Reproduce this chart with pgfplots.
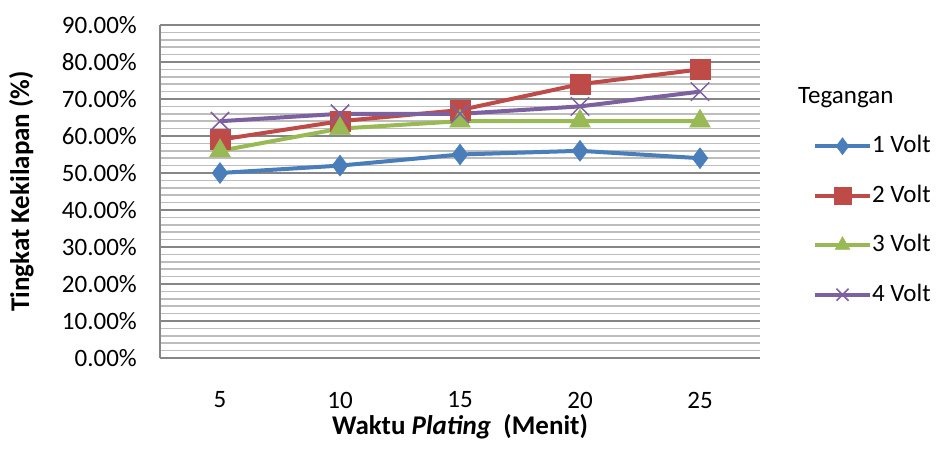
\documentclass[border=0pt]{standalone}
\usepackage{pgfplots}
\pgfplotsset{compat=1.18}
\usepackage{fontspec}
\setmainfont{Carlito}
\definecolor{s1}{HTML}{4A7EBB}
\definecolor{s2}{HTML}{BE4B48}
\definecolor{s3}{HTML}{98B954}
\definecolor{s4}{HTML}{7D60A0}
\definecolor{gmaj}{HTML}{868686}
\definecolor{gmin}{HTML}{BDBDBD}
\begin{document}
\begin{tikzpicture}[font=\fontsize{25}{30}\selectfont]
\useasboundingbox (0pt,0pt) rectangle (939pt,451pt);
\begin{axis}[
  at={(160pt,93pt)}, anchor=south west,
  scale only axis, width=600pt, height=333pt,
  xmin=2.5, xmax=27.5, ymin=0, ymax=90,
  xtick={5,10,15,20,25},
  ytick={0,10,...,90},
  minor y tick num=4,
  ymajorgrids, yminorgrids,
  major grid style={draw=gmaj, line width=2pt},
  minor grid style={draw=gmin, line width=1.5pt},
  major tick length=0pt, minor tick length=0pt,
  axis x line*=bottom, axis y line*=left,
  axis line style={draw=gmaj, line width=2pt, -},
  /pgf/number format/assume math mode=true,
  yticklabel={\pgfmathprintnumber[fixed,fixed zerofill,precision=2]{\tick}\%},
  yticklabel style={anchor=east, inner sep=0pt, xshift=-23pt},
  xticklabel style={anchor=center, inner sep=0pt, yshift=-42pt},
  xlabel={\textbf{Waktu \textit{Plating}\ \ (Menit)}},
  ylabel={\textbf{Tingkat Kekilapan (\%)}},
  every axis x label/.style={at={(axis description cs:0.5,-0.206)}, anchor=center, font=\fontsize{27}{32}\selectfont},
  every axis y label/.style={at={(axis description cs:-0.231,0.5)}, rotate=90, anchor=center, font=\fontsize{27}{32}\selectfont},
  clip=false,
  legend style={at={(rel axis cs:1.088,0.413)}, anchor=west, draw=none, fill=none,
    inner sep=0pt, row sep=26.5pt,
    nodes={inner sep=0pt, text height=18pt, text depth=5pt, anchor=west},
    /tikz/every even column/.append style={column sep=5pt}},
  legend cell align=left,
  legend image code/.code={\draw[mark repeat=2,mark phase=2,#1,mark size=8.5pt] plot coordinates {(0pt,0pt) (27.5pt,0pt) (55pt,0pt)};},
]
\addplot[s1, line width=4pt, mark=diamond*, mark size=10.5pt, mark options={solid, line width=0.5pt, fill=s1}]
  coordinates {(5,50) (10,52) (15,55) (20,56) (25,54)};
\addlegendentry{1 Volt}
\addplot[s2, line width=4pt, mark=square*, mark size=10pt, mark options={solid, line width=0.5pt, fill=s2}]
  coordinates {(5,59) (10,64) (15,67) (20,74) (25,78)};
\addlegendentry{2 Volt}
\addplot[s3, line width=4pt, mark=triangle*, mark size=12pt, mark options={solid, line width=0.5pt, fill=s3}]
  coordinates {(5,56) (10,62) (15,64) (20,64) (25,64)};
\addlegendentry{3 Volt}
\addplot[s4, line width=4pt, mark=x, mark size=13pt, mark options={solid, line width=1.5pt}]
  coordinates {(5,64) (10,66) (15,66) (20,68) (25,72)};
\addlegendentry{4 Volt}
\end{axis}
\node[anchor=west, inner sep=0pt] at (798pt,353pt) {Tegangan};
\end{tikzpicture}
\end{document}
